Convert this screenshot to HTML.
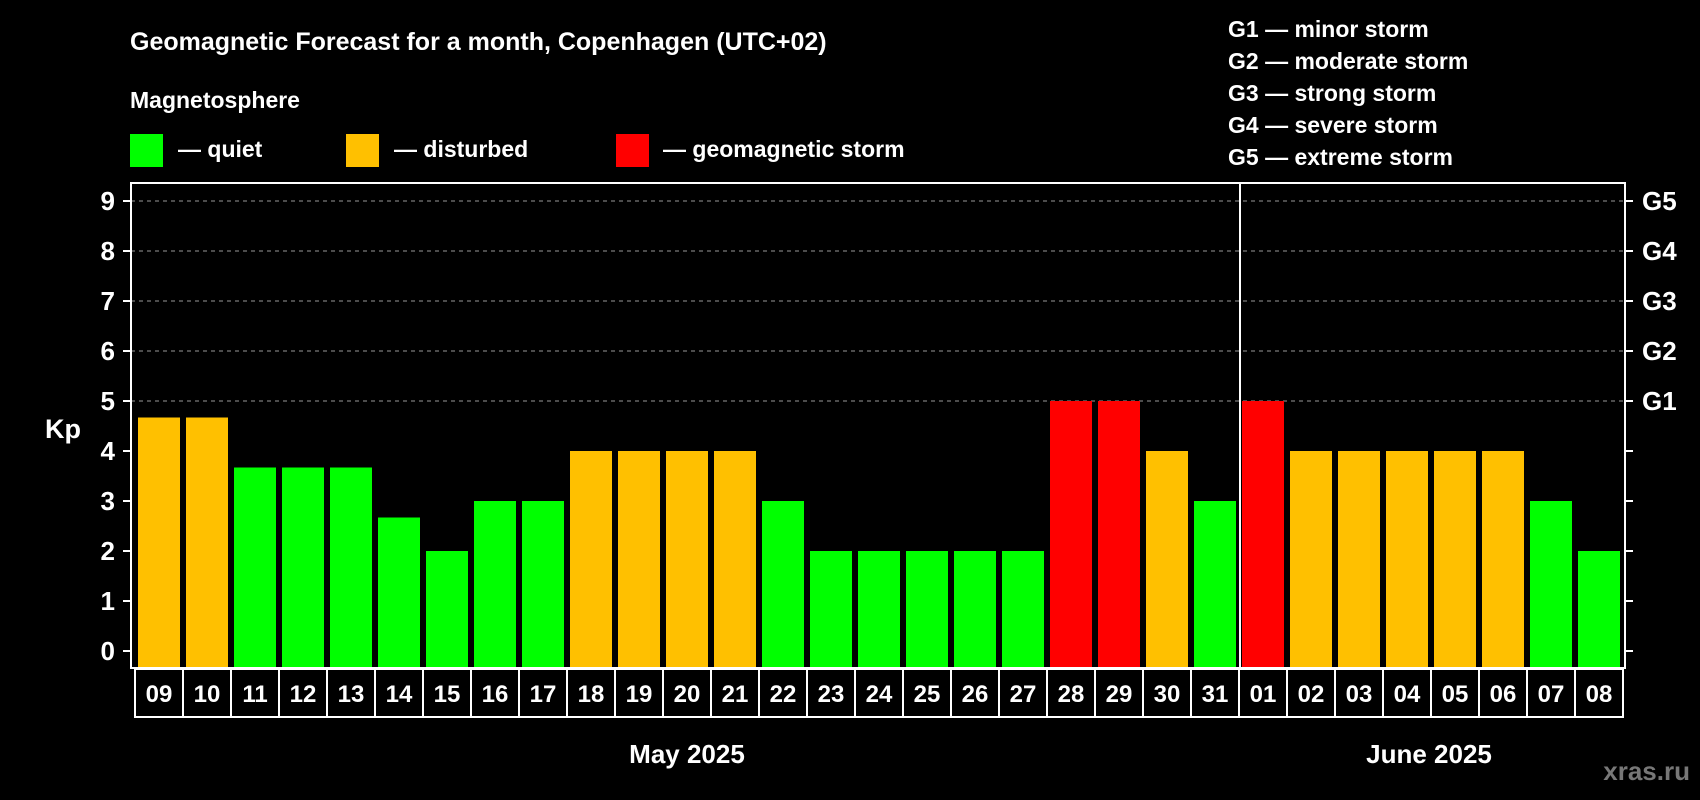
<!DOCTYPE html>
<html><head><meta charset="utf-8"><style>
html,body{margin:0;padding:0;background:#000;}
svg{display:block;font-family:"Liberation Sans",Arial,sans-serif;font-weight:bold;}
</style></head><body>
<svg id="chart" width="1700" height="800" viewBox="0 0 1700 800">
<rect x="0" y="0" width="1700" height="800" fill="#000"/>
<text x="130" y="50" fill="#fff" font-size="25">Geomagnetic Forecast for a month, Copenhagen (UTC+02)</text>
<text x="130" y="108" fill="#fff" font-size="23">Magnetosphere</text>
<rect x="130" y="134" width="33" height="33" fill="#00ff00"/>
<text x="178" y="157" fill="#fff" font-size="23">— quiet</text>
<rect x="346" y="134" width="33" height="33" fill="#ffc000"/>
<text x="394" y="157" fill="#fff" font-size="23">— disturbed</text>
<rect x="616" y="134" width="33" height="33" fill="#ff0000"/>
<text x="663" y="157" fill="#fff" font-size="23">— geomagnetic storm</text>
<g fill="#fff" font-size="23">
<text x="1228" y="37">G1 — minor storm</text>
<text x="1228" y="69">G2 — moderate storm</text>
<text x="1228" y="101">G3 — strong storm</text>
<text x="1228" y="133">G4 — severe storm</text>
<text x="1228" y="165">G5 — extreme storm</text>
</g>
<text x="63" y="438" fill="#fff" font-size="27" text-anchor="middle">Kp</text>
<g id="grid"></g>
<g id="bars"></g>
<g id="axes"></g>
<text x="687" y="763" fill="#fff" font-size="26" text-anchor="middle">May 2025</text>
<text x="1429" y="763" fill="#fff" font-size="26" text-anchor="middle">June 2025</text>
<text x="1690" y="780" fill="#777" font-size="26" text-anchor="end">xras.ru</text>
</svg>
<script>
const days = ["09","10","11","12","13","14","15","16","17","18","19","20","21","22","23","24","25","26","27","28","29","30","31","01","02","03","04","05","06","07","08"];
const kpValues = [4.67,4.67,3.67,3.67,3.67,2.67,2,3,3,4,4,4,4,3,2,2,2,2,2,5,5,4,3,5,4,4,4,4,4,3,2];
const levels = ["d","d","q","q","q","q","q","q","q","d","d","d","d","q","q","q","q","q","q","s","s","d","q","s","d","d","d","d","d","q","q"];
const yTicks = [0,1,2,3,4,5,6,7,8,9];
const gTicks = [5,6,7,8,9];
const gLabels = ["G1","G2","G3","G4","G5"];
const monthBreakIndex = 23;

const NS = "http://www.w3.org/2000/svg";
const L = 131, R = 1625, T = 183, B = 668;
const y = v => 651 - 50 * v;
const xStart = i => 138 + 48 * i;
const BW = 42;
const colors = {q:"#00ff00", d:"#ffc000", s:"#ff0000"};
function mk(tag, attrs, parent){const e=document.createElementNS(NS,tag);for(const k in attrs)e.setAttribute(k,attrs[k]);parent.appendChild(e);return e;}
const grid = document.getElementById("grid"), bars = document.getElementById("bars"), axes = document.getElementById("axes");

gTicks.forEach(v=>{
  const ln = mk("line",{x1:L,x2:R,y1:y(v),y2:y(v),stroke:"#999","stroke-width":1,"stroke-dasharray":"4,4"},grid);
  
  
});
kpValues.forEach((v,i)=>{
  const r = mk("rect",{x:xStart(i),y:y(v),width:BW,height:B-1-y(v),fill:colors[levels[i]]},bars);
  
  
});
const frame = mk("rect",{x:L,y:T,width:R-L,height:B-T,fill:"none",stroke:"#fff","stroke-width":2},axes);


const sepX = 135 + 48 * monthBreakIndex + 1;
const sep = mk("line",{x1:sepX,x2:sepX,y1:T,y2:717,stroke:"#fff","stroke-width":2},axes);


yTicks.forEach(v=>{
  const t = mk("line",{x1:L-8,x2:L,y1:y(v),y2:y(v),stroke:"#fff","stroke-width":2},axes);
  
  
  const t2 = mk("line",{x1:R,x2:R+8,y1:y(v),y2:y(v),stroke:"#fff","stroke-width":2},axes);
  
  
  const lb = mk("text",{x:115,y:y(v)+9,fill:"#fff","font-size":26,"text-anchor":"end"},axes);
  lb.textContent = v;
  
  
});
gTicks.forEach((v,i)=>{
  const lb = mk("text",{x:1642,y:y(v)+9,fill:"#fff","font-size":26},axes);
  lb.textContent = gLabels[i];
  
  
});
days.forEach((d,i)=>{
  const bx = 135 + 48 * i;
  const box = mk("rect",{x:bx,y:669,width:48,height:48,fill:"#000",stroke:"#fff","stroke-width":2},axes);
  
  
  const tx = mk("text",{x:bx+24,y:702,fill:"#fff","font-size":24,"text-anchor":"middle"},axes);
  tx.textContent = d;
  
  
});
</script>
</body></html>
